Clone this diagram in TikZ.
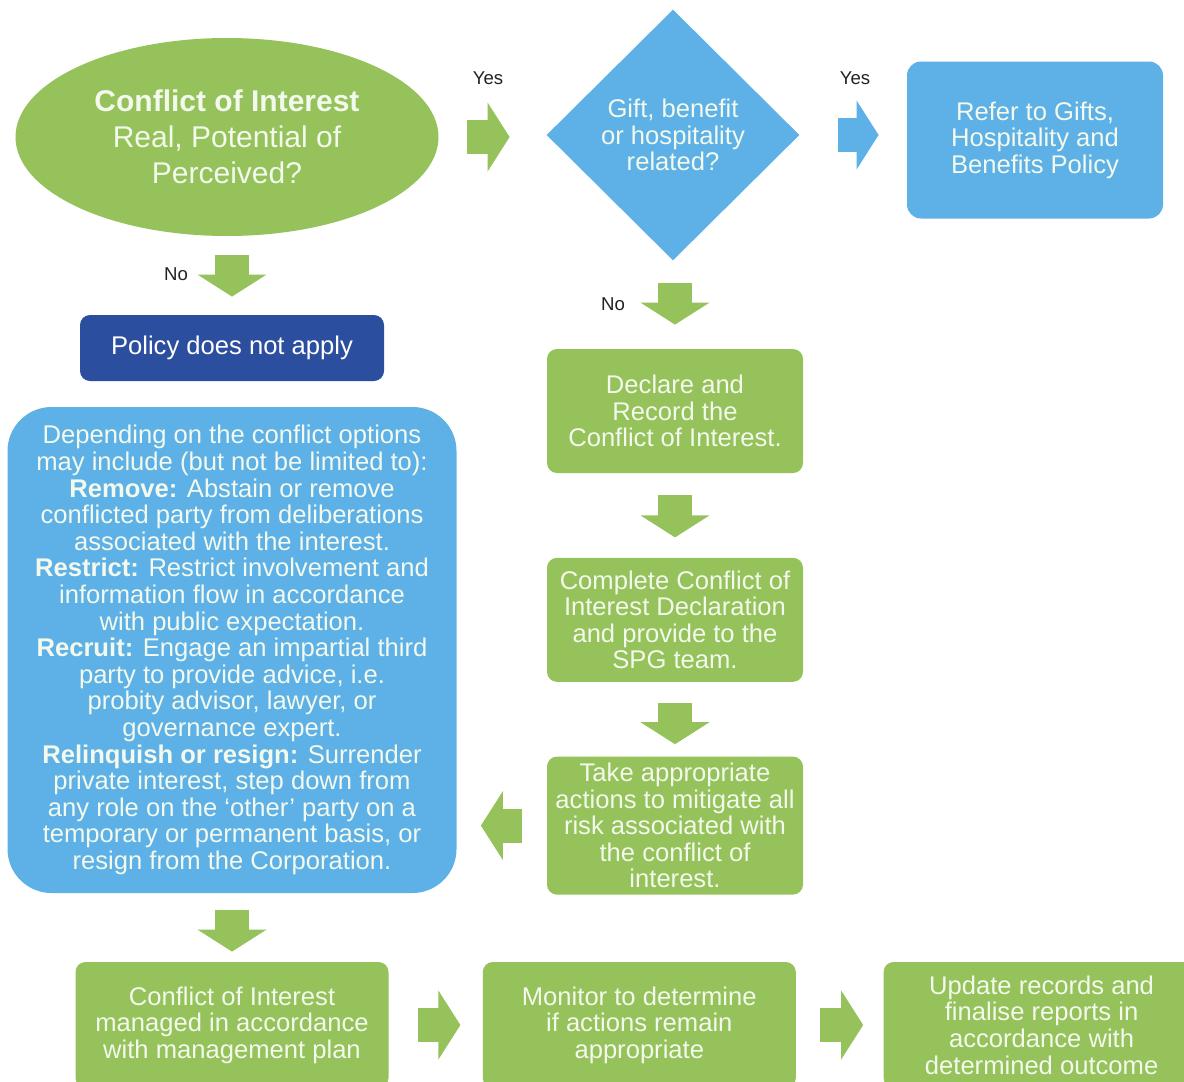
\documentclass[tikz,border=0pt]{standalone}
\usepackage{fontspec}
\setmainfont{Liberation Sans}
\usetikzlibrary{arrows.meta, positioning, shapes.geometric}
\definecolor{clrGrn}{HTML}{95C25A}
\definecolor{clrBlu}{HTML}{5DB1E6}
\definecolor{clrNavy}{HTML}{2C4E9E}
\definecolor{clrTxt}{HTML}{F3F9EC}
\definecolor{clrLbl}{HTML}{222222}

\begin{document}
\begin{tikzpicture}[x=0.5pt, y=-0.5pt,
    txt/.style={font=\fontsize{12.8}{13.3}\selectfont, text=clrTxt, align=center, inner sep=0pt},
    grnbox/.style={txt, rectangle, rounded corners=5pt, fill=clrGrn, minimum width=128pt},
    blubox/.style={txt, rectangle, fill=clrBlu},
    lbl/.style={font=\fontsize{9.3}{11}\selectfont, text=clrLbl, inner sep=0pt},
    blk/.style={draw=#1, line width=17pt, -{Triangle[length=11pt, width=34pt]}},
    blk/.default=clrGrn]
  \useasboundingbox (0,0) rectangle (1184,1082);
  \clip (0,0) rectangle (1184,1082);

  \node[ellipse, fill=clrGrn, text=clrTxt, align=center, inner sep=0pt,
        minimum width=211.5pt, minimum height=99pt,
        font=\fontsize{15}{18}\selectfont] (ci) at (227,137)
        {\textbf{Conflict of Interest}\\Real, Potential of\\Perceived?};
  \node[diamond, fill=clrBlu, txt, minimum width=126.5pt, minimum height=125.5pt] (gift)
        at (673,135) {Gift, benefit\\or hospitality\\related?};
  \node[blubox, rounded corners=7pt, minimum width=128pt, minimum height=78.5pt] (refer)
        at (1035,140) {Refer to Gifts,\\Hospitality and\\Benefits Policy};
  \node[txt, rectangle, rounded corners=5pt, fill=clrNavy, text=white,
        minimum width=152pt, minimum height=33pt] (policy) at (232,348) {Policy does not apply};

  \node[grnbox, minimum height=62pt] (declare) at (675,411)
        {Declare and\\Record the\\Conflict of Interest.};
  \node[grnbox, minimum height=62pt, below=42pt of declare] (complete)
        {Complete Conflict of\\Interest Declaration\\and provide to the\\SPG team.};
  \node[grnbox, minimum height=69pt, below=37pt of complete] (take)
        {Take appropriate\\actions to mitigate all\\risk associated with\\the conflict of\\interest.};

  \node[blubox, rounded corners=22pt, minimum width=224.5pt, minimum height=243pt] (options)
        at (232,650)
        {Depending on the conflict options\\
         may include (but not be limited to):\\
         \textbf{Remove:} Abstain or remove\\
         conflicted party from deliberations\\
         associated with the interest.\\
         \textbf{Restrict:} Restrict involvement and\\
         information flow in accordance\\
         with public expectation.\\
         \textbf{Recruit:} Engage an impartial third\\
         party to provide advice, i.e.\\
         probity advisor, lawyer, or\\
         governance expert.\\
         \textbf{Relinquish or resign:} Surrender\\
         private interest, step down from\\
         any role on the `other' party on a\\
         temporary or permanent basis, or\\
         resign from the Corporation.};

  \node[grnbox, minimum width=156.5pt, minimum height=63pt] (managed) at (232,1025)
        {Conflict of Interest\\managed in accordance\\with management plan};
  \node[grnbox, minimum width=156.5pt, minimum height=63pt, right=46.75pt of managed] (monitor)
        {Monitor to determine\\if actions remain\\appropriate};
  \node[grnbox, minimum width=158pt, minimum height=63pt, right=43.5pt of monitor] (update)
        {Update records and\\finalise reports in\\accordance with\\determined outcome};

  \node[lbl] (yes1) at (488,78) {Yes};
  \node[lbl] (yes2) at (855,78) {Yes};
  \node[lbl] (no1) at (176,274) {No};
  \node[lbl] (no2) at (613,304) {No};

  \draw[blk, shorten <=14.25pt, shorten >=18.25pt] (ci.east) -- (ci.east -| gift.west);
  \draw[blk=clrBlu, shorten <=19.25pt, shorten >=14pt] (gift.east) -- (gift.east -| refer.west);
  \draw[blk, shorten <=9.5pt, shorten >=9pt] (ci.south -| policy.north) -- (policy.north);
  \draw[blk, shorten <=11.25pt, shorten >=12pt] (gift.south -| declare.north) -- (declare.north);
  \draw[blk, shorten <=11pt, shorten >=10pt] (declare) -- (complete);
  \draw[blk, shorten <=10.5pt, shorten >=6pt] (complete) -- (take);
  \draw[blk, shorten <=12.5pt, shorten >=12pt] (take.west) -- (take.west -| options.east);
  \draw[blk, shorten <=8.5pt, shorten >=5pt] (options.south -| managed.north) -- (managed.north);
  \draw[blk, shorten <=14.5pt, shorten >=11pt] (managed) -- (monitor);
  \draw[blk, shorten <=12pt, shorten >=10pt] (monitor) -- (update);
\end{tikzpicture}
\end{document}
